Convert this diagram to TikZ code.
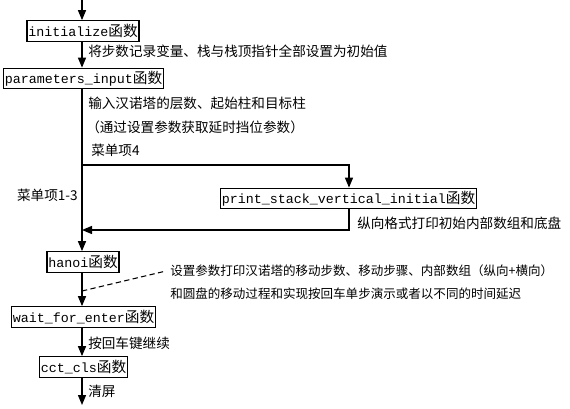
\documentclass[tikz,border=0pt]{standalone}
\usepackage{fontspec}
\setmainfont{Noto Sans CJK SC}
\setmonofont{Liberation Mono}
\newfontfamily\cjk{Noto Sans CJK SC}
\usetikzlibrary{arrows.meta}
\begin{document}
\begin{tikzpicture}[x=0.75pt,y=-0.75pt,
  fn/.style={draw,line width=0.8pt,inner xsep=1pt,inner ysep=0pt,minimum height=15.5pt,font=\ttfamily\fontsize{10}{12}\selectfont},
  conn/.style={line width=1pt},
  arr/.style={conn,-{Triangle[length=7.5pt,width=6pt]}},
  note/.style={anchor=west,inner sep=0pt,font=\cjk\fontsize{10.2}{12}\selectfont},
  smallnote/.style={anchor=west,inner sep=0pt,font=\cjk\fontsize{9.4}{12}\selectfont}]
\useasboundingbox (0,0) rectangle (570,408);
\newcommand{\hs}{{\cjk\fontsize{11}{12}\selectfont 函数}}
% nodes
\node[fn] (init) at (83,31) {initialize\hs};
\node[fn] (param) at (83.5,78.5) {parameters\_input\hs};
\node[fn] (print) at (348.5,198.5) {print\_stack\_vertical\_initial\hs};
\node[fn] (hanoi) at (83,262) {hanoi\hs};
\node[fn] (wait) at (83.5,317) {wait\_for\_enter\hs};
\node[fn] (cct) at (83.5,367) {cct\_cls\hs};
% coordinates
\coordinate (top) at (82,0);
\coordinate (bot) at (82,405);
\coordinate (br1) at (82,165);
\coordinate (br2) at (349,165);
\coordinate (ret1) at (349,230);
\coordinate (ret2) at (82,230);
\coordinate (dash1) at (82,291);
\coordinate (dash2) at (166,271);
% connectors
\draw[arr] (top) -- (init.north -| top);
\draw[arr] (init.south -| top) -- (param.north -| top);
\draw[arr] (param.south -| top) -- (hanoi.north -| top);
\draw[arr] (br1) -- (br2) -- (print.north -| br2);
\draw[arr] (print.south -| ret1) -- (ret1) -- (ret2);
\draw[arr] (hanoi.south -| top) -- (wait.north -| top);
\draw[arr] (wait.south -| top) -- (cct.north -| top);
\draw[arr] (cct.south -| top) -- (bot);
\draw[line width=0.8pt,dash pattern=on 4pt off 2.5pt] (dash1) -- (dash2);
% labels
\node[note] (t1) at (88,51) {将步数记录变量、栈与栈顶指针全部设置为初始值};
\node[note] (t2) at (88,103) {输入汉诺塔的层数、起始柱和目标柱};
\node[note] (t3) at (86,127) {（通过设置参数获取延时挡位参数）};
\node[note] (t4) at (91,150) {菜单项4};
\node[note,anchor=east] (t5) at (78,195) {菜单项1-3};
\node[note] (t6) at (357,223) {纵向格式打印初始内部数组和底盘};
\node[smallnote] (t7) at (170,271) {设置参数打印汉诺塔的移动步数、移动步骤、内部数组（纵向+横向）};
\node[smallnote] (t8) at (170,294) {和圆盘的移动过程和实现按回车单步演示或者以不同的时间延迟};
\node[note] (t9) at (88,343) {按回车键继续};
\node[note] (t10) at (88,391) {清屏};
\end{tikzpicture}
\end{document}
